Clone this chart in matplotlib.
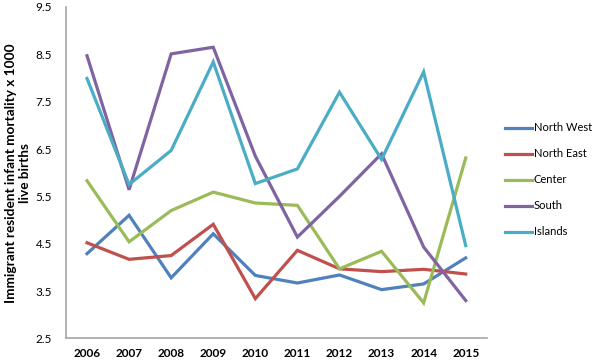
import matplotlib
matplotlib.use("Agg")
import matplotlib.pyplot as plt

years = ["2006", "2007", "2008", "2009", "2010", "2011", "2012", "2013", "2014", "2015"]
north_west = [4.29, 5.10, 3.78, 4.71, 3.83, 3.67, 3.84, 3.53, 3.65, 4.20]
north_east = [4.52, 4.17, 4.25, 4.91, 3.34, 4.36, 3.97, 3.91, 3.96, 3.86]
center = [5.83, 4.54, 5.20, 5.59, 5.36, 5.31, 3.97, 4.34, 3.25, 6.31]
south = [8.47, 5.64, 8.51, 8.65, 6.35, 4.64, 5.50, 6.40, 4.43, 3.30]
islands = [7.99, 5.75, 6.47, 8.34, 5.77, 6.08, 7.70, 6.28, 8.13, 4.46]

series = [
    ("North West", north_west, "#4F81BD"),
    ("North East", north_east, "#C0504D"),
    ("Center", center, "#9BBB59"),
    ("South", south, "#8064A2"),
    ("Islands", islands, "#4BACC6"),
]

plt.rcParams["font.family"] = ["Lato", "DejaVu Sans"]

fig = plt.figure(figsize=(5.96, 3.6), dpi=100)
ax = fig.add_axes([0.1107, 0.06, 0.706, 0.9206])

x = range(len(years))
for name, vals, color in series:
    ax.plot(x, vals, color=color, lw=2.3, label=name, solid_joinstyle="miter")

ax.set_xlim(-0.5, len(years) - 0.5)
ax.set_ylim(2.5, 9.5)
ax.set_yticks([2.5, 3.5, 4.5, 5.5, 6.5, 7.5, 8.5, 9.5])
ax.set_yticklabels(["2.5", "3.5", "4.5", "5.5", "6.5", "7.5", "8.5", "9.5"], fontsize=8.5)
ax.set_xticks(list(x))
ax.set_xticklabels(years, fontsize=8.5, fontweight="bold")
ax.tick_params(length=0, pad=7)
ax.tick_params(axis="y", pad=10)

for s in ["top", "right"]:
    ax.spines[s].set_visible(False)
for s in ["left", "bottom"]:
    ax.spines[s].set_color("#A6A6A6")
    ax.spines[s].set_linewidth(1.2)

ax.set_ylabel("Immigrant resident infant mortality x 1000\nlive births",
              fontsize=9.8, fontweight="bold", labelpad=3, linespacing=1.25)

ax.legend(loc="center left", bbox_to_anchor=(1.02, 0.478), frameon=False,
          fontsize=8, handlelength=2.4, handletextpad=0.15, labelspacing=1.35)

fig.savefig("out.png", dpi=100)
